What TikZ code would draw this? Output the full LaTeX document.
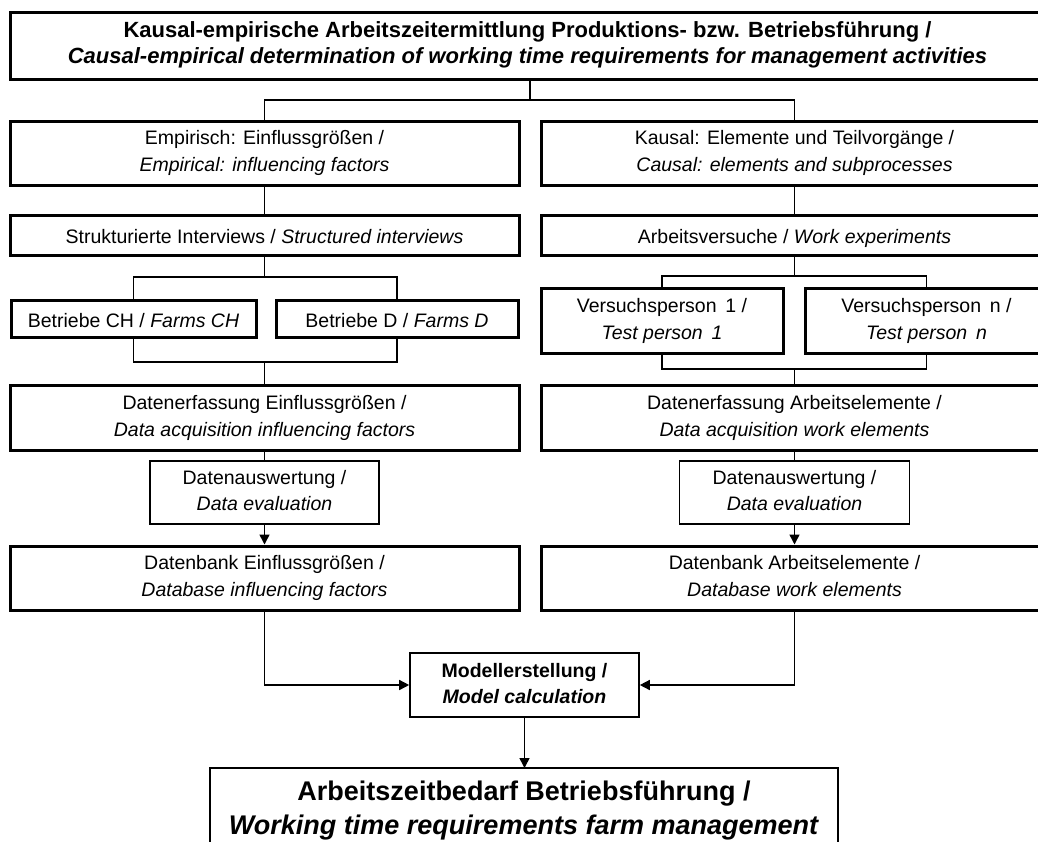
\documentclass[tikz,border=0pt]{standalone}
\usepackage{fontspec}
\setmainfont{Liberation Sans}
\usetikzlibrary{arrows.meta}
\tikzset{
  struts/.style 2 args={execute at begin node={\rule{0pt}{#1}}, execute at end node={\rule[-#2]{0pt}{#2}}},
  framebox/.style={draw, align=center, inner sep=2pt},
  mainbox/.style={framebox, line width=3pt, font=\fontsize{19.5}{27}\selectfont, struts={21pt}{4pt}},
  subbox/.style={framebox, line width=1.6pt, font=\fontsize{19.5}{26}\selectfont, struts={21pt}{4pt}},
  conn/.style={line width=1.5pt},
  arr/.style={conn, -{Triangle[length=10pt,width=10pt]}},
}
\begin{document}
\begin{tikzpicture}[x=1pt,y=-1pt]
\useasboundingbox (0,0) rectangle (1038,841);
\clip (0,0) rectangle (1038,841);
% top
\node[framebox, line width=3pt, struts={18pt}{5pt}, minimum width=1035pt, minimum height=67pt, font=\bfseries\fontsize{22}{26}\selectfont] (top) at (527.5,45.5)
  {Kausal-empirische Arbeitszeitermittlung Produktions- bzw. Betriebsführung /\\\textit{Causal-empirical determination of working time requirements for management activities}};
% level 1
\node[mainbox, minimum width=509pt, minimum height=64pt] (emp) at (264.5,153)
  {Empirisch: Einflussgrößen /\\\textit{Empirical: influencing factors}};
\node[mainbox, minimum width=507pt, minimum height=64pt] (kau) at (794.5,153)
  {Kausal: Elemente und Teilvorgänge /\\\textit{Causal: elements and subprocesses}};
% level 2
\node[mainbox, minimum width=509pt, minimum height=40pt] (struk) at (264.5,235)
  {Strukturierte Interviews~/ \textit{Structured interviews}};
\node[mainbox, minimum width=507pt, minimum height=40pt] (arbv) at (794.5,235)
  {Arbeitsversuche~/ \textit{Work experiments}};
% level 3
\node[mainbox, minimum width=245pt, minimum height=37pt] (bch) at (133.5,318.5)
  {Betriebe CH~/ \textit{Farms CH}};
\node[mainbox, minimum width=242pt, minimum height=37pt] (bd) at (397,318.5)
  {Betriebe D~/ \textit{Farms D}};
\node[mainbox, minimum width=242pt, minimum height=65pt] (vp1) at (662,320.5)
  {Versuchsperson\hspace{0.45em}1 /\\\textit{Test person\hspace{0.45em}1}};
\node[mainbox, minimum width=243pt, minimum height=65pt] (vpn) at (926.5,320.5)
  {Versuchsperson\hspace{0.45em}n /\\\textit{Test person\hspace{0.45em}n}};
% level 4
\node[mainbox, minimum width=509pt, minimum height=65pt] (dee) at (264.5,417.5)
  {Datenerfassung Einflussgrößen /\\\textit{Data acquisition influencing factors}};
\node[mainbox, minimum width=507pt, minimum height=65pt] (dea) at (794.5,417.5)
  {Datenerfassung Arbeitselemente /\\\textit{Data acquisition work elements}};
% level 5
\node[subbox, minimum width=229pt, minimum height=63pt] (dae) at (264.5,492.5)
  {Datenauswertung /\\\textit{Data evaluation}};
\node[subbox, minimum width=230pt, minimum height=63pt] (daa) at (794.5,492.5)
  {Datenauswertung /\\\textit{Data evaluation}};
% level 6
\node[mainbox, minimum width=509pt, minimum height=64pt] (dbe) at (264.5,578)
  {Datenbank Einflussgrößen /\\\textit{Database influencing factors}};
\node[mainbox, minimum width=507pt, minimum height=64pt] (dba) at (794.5,578)
  {Datenbank Arbeitselemente /\\\textit{Database work elements}};
% model
\node[subbox, minimum width=229pt, minimum height=64pt, font=\bfseries\fontsize{19.5}{26}\selectfont] (model) at (524.5,685)
  {Modellerstellung /\\\textit{Model calculation}};
% bottom
\node[align=center, minimum width=628pt, minimum height=84pt, inner sep=0pt, anchor=north,
  font=\bfseries\fontsize{27}{34}\selectfont] (bottom) at (524,768)
  {Arbeitszeitbedarf Betriebsführung /\\\textit{Working time requirements farm management}};
\draw[line width=1.6pt] ([yshift=-80pt]bottom.south west) |- (bottom.north east) -- ([yshift=-80pt]bottom.south east);
% connectors
\coordinate (j0) at (530,100);
\draw[conn] (top.south -| j0) -- (j0);
\draw[conn] (emp.north) |- (j0) -| (kau.north);
\draw[conn] (emp.south) -- (struk.north);
\draw[conn] (kau.south) -- (arbv.north);
\coordinate (j1) at (264.5,277);
\draw[conn] (struk.south) -- (j1);
\draw[conn] (bch.north) |- (j1) -| (bd.north);
\coordinate (j2) at (264.5,362);
\draw[conn] (bch.south) |- (j2) -| (bd.south);
\draw[conn] (j2) -- (dee.north);
\coordinate (j3) at (794.5,276);
\draw[conn] (arbv.south) -- (j3);
\draw[conn] (vp1.north) |- (j3) -| (vpn.north);
\coordinate (j4) at (794.5,369);
\draw[conn] (vp1.south) |- (j4) -| (vpn.south);
\draw[conn] (j4) -- (dea.north);
\draw[conn] (dee.south) -- (dae.north);
\draw[conn] (dea.south) -- (daa.north);
\draw[arr] (dae.south) -- (dbe.north);
\draw[arr] (daa.south) -- (dba.north);
\draw[arr] (dbe.south) |- (model.west);
\draw[arr] (dba.south) |- (model.east);
\draw[arr] (model.south) -- (model.south |- bottom.north);
\end{tikzpicture}
\end{document}
